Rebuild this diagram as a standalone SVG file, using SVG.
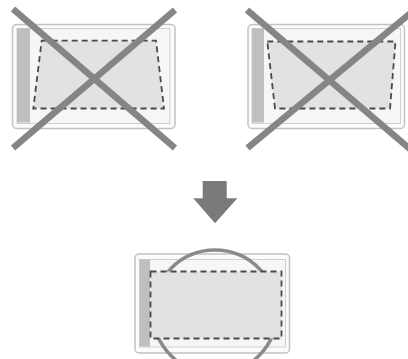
<svg xmlns="http://www.w3.org/2000/svg" width="408" height="359" viewBox="0 0 408 359">
<style>
.outer{fill:#fbfbfb;stroke:#c2c2c2;stroke-width:1.5}
.inner{fill:#f6f6f6;stroke:#cfcfcf;stroke-width:1}
.bar{fill:#bfbfbf}
.screen{fill:#e2e2e2;stroke:#4a4a4a;stroke-width:1.8;stroke-dasharray:6 4}
.cross{stroke:#858585;stroke-width:6.5;stroke-linecap:butt;fill:none}
.ok{stroke:#8a8a8a;stroke-width:3.5;fill:none}
</style>
<rect width="408" height="359" fill="#ffffff"/>
<g id="tablet-left">
<rect class="outer" x="12.5" y="24.5" width="162.5" height="104" rx="4"/>
<rect class="inner" x="17" y="28.5" width="153" height="95"/>
<rect class="bar" x="17" y="28.5" width="13" height="94"/>
<polygon class="screen" points="41.7,40.7 156,40.7 164,108.5 33.3,108.5"/>
<line class="cross" x1="13" y1="9" x2="175" y2="148"/>
<line class="cross" x1="175" y1="10" x2="13" y2="148"/>
</g>
<g id="tablet-right">
<rect class="outer" x="248" y="24.5" width="156.5" height="104" rx="4"/>
<rect class="inner" x="252" y="28.5" width="148.5" height="95"/>
<rect class="bar" x="252" y="28.5" width="12" height="94"/>
<polygon class="screen" points="267.3,41.5 395.5,41.5 390,108.5 275,108.5"/>
<line class="cross" x1="247" y1="10" x2="410" y2="149"/>
<line class="cross" x1="247.5" y1="148" x2="412" y2="12"/>
</g>
<g id="connectors">
<polygon id="arrow" fill="#7a7a7a" points="202.7,181 226.7,181 226.7,198.3 237.3,198.3 215,223.3 193.3,198.3 202.7,198.3"/>
</g>
<g id="tablet-bottom">
<rect class="outer" x="135" y="254" width="154.5" height="99" rx="4"/>
<rect class="inner" x="139.5" y="259.5" width="146" height="87.5"/>
<rect class="bar" x="139.5" y="259.5" width="10.5" height="87"/>
<circle class="ok" cx="215" cy="312" r="62"/>
<rect class="screen" x="150.5" y="271.5" width="131" height="67"/>
</g>
</svg>
